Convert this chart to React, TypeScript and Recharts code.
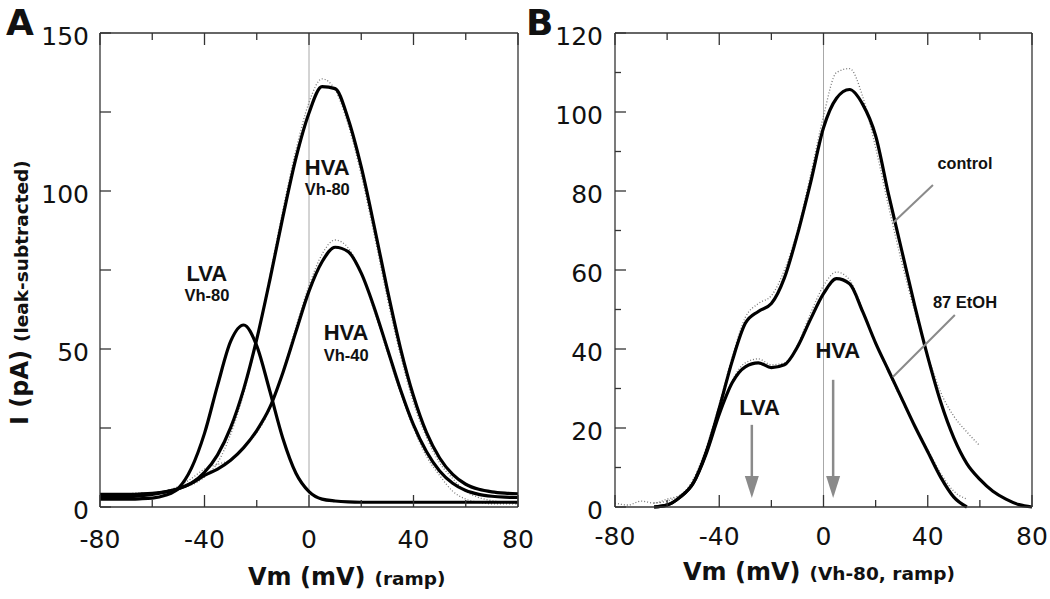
import React from 'react';
import { LineChart, Line, XAxis, YAxis, ReferenceLine, ReferenceDot } from 'recharts';

// membrane potential grid (mV)
const vm = [-80, -75, -70, -65, -60, -55, -50, -45, -40, -35, -30, -25, -20, -15, -10, -5, 0, 5, 10, 15, 20, 25, 30, 35, 40, 45, 50, 55, 60, 65, 70, 75, 80];

// panel A: fitted currents (pA)
const lvaVh80 = [2.5, 2.5, 2.5, 2.6, 2.8, 3.7, 5.9, 12.3, 23.3, 38.5, 52.4, 57.6, 51, 36.7, 21.7, 10.7, 4.9, 2.5, 1.9, 1.6, 1.5, 1.5, 1.5, 1.5, 1.5, 1.5, 1.5, 1.5, 1.5, 1.5, 1.5, 1.5, 1.5];
const hvaVh80 = [4.0, 4.0, 4.0, 4.1, 4.3, 4.8, 5.8, 7.6, 11.0, 16.5, 25.1, 37.3, 53.1, 71.8, 91.8, 110.4, 124.7, 133, 132.4, 122.8, 107.6, 88.7, 68.7, 50.3, 35.1, 23.5, 15.5, 10.3, 7.2, 5.6, 4.8, 4.4, 4.2];
const hvaVh40 = [3.0, 3.0, 3.2, 3.5, 4.0, 4.8, 5.8, 7.5, 10, 12, 14.8, 18.8, 24.2, 31.5, 42.5, 55.5, 68.3, 77.6, 82.2, 80.8, 74.0, 63.0, 50.1, 37.2, 26.0, 17.5, 11.4, 7.5, 5.2, 4.0, 3.4, 3.1, 3.0];
// panel A: raw ramp traces
const rawVh80 = [3.5, 3, 4, 4.5, 4, 5, 6, 7, 9.5, 14, 23, 36, 53, 73, 94, 113, 128, 135.5, 132, 121, 105, 86, 66, 48, 33, 22, 14, 9, 5, 3, 2, 1.5, 1];
const rawVh40 = [2.5, 3, 3, 3.5, 4, 5, 6.5, 9, 12, 13.5, 15, 19, 23.5, 31, 43, 57, 70, 80, 84.5, 82, 74, 62, 49, 36, 25, 16, 10, 5, 2.5, 1.5, 1, 1, 1];

// panel B: fitted currents (pA)
const control = [null, null, null, 0, 0.5, 2.5, 6, 14, 25, 37, 46.5, 49.5, 51.5, 58, 69, 82, 96, 103.5, 105.7, 102, 94, 79, 65, 51, 38, 26.5, 17.5, 11, 7, 4, 2, 0.6, 0];
const etoh87 = [null, null, null, 0, 0.5, 2.5, 6, 13.5, 23.5, 31.5, 35.5, 36.5, 35.3, 36, 40.5, 47.5, 54, 57.8, 56.5, 49.5, 41.5, 34.5, 27.5, 20.5, 14, 7.5, 2.5, 0, null, null, null, null, null];
// panel B: raw ramp traces
const rawControl = [1, 0.5, 1.5, 1, 2, 3, 7, 15, 26, 38, 48, 51.5, 53.5, 60, 70, 84, 99, 110, 111, 104, 91, 76, 62, 49.5, 38.5, 29, 23, 19, 15.5, null, null, null, null];
const rawEtoh = [null, null, null, 1, 1.5, 3, 6, 13, 23.5, 32, 36.5, 37.5, 36, 36.5, 41, 49, 56, 59.5, 57.5, 50, 41.5, 34, 27, 20.5, 14.5, 8.5, 4, 2, null, null, null, null, null];

const xTicks = [-80, -60, -40, -20, 0, 20, 40, 60, 80];
const yTicksA = [0, 25, 50, 75, 100, 125, 150];
const yTicksB = [0, 10, 20, 30, 40, 50, 60, 70, 80, 90, 100, 110, 120];

const rowsA = vm.map((v, i) => ({ vm: v, lva: lvaVh80[i], hva80: hvaVh80[i], hva40: hvaVh40[i], raw80: rawVh80[i], raw40: rawVh40[i] }));
const rowsB = vm.map((v, i) => ({ vm: v, ctl: control[i], eth: etoh87[i], rawCtl: rawControl[i], rawEth: rawEtoh[i] }));

const NUM_FONT = "'DejaVu Sans', Verdana, sans-serif";
const LBL_FONT = "'Liberation Sans', Arial, sans-serif";
const AXIS = '#333';

const mkTick = (side: string, opts: { labelEvery?: number; majorEvery: number; major: number; minor: number; dx?: number; dy?: number }) =>
  (props: any) => {
    const { x, y, payload } = props;
    const v = Number(payload.value);
    const len = v % opts.majorEvery === 0 ? opts.major : opts.minor;
    let ln: any = null;
    if (side === 'bottom') ln = <line x1={x} y1={y} x2={x} y2={y - len} />;
    if (side === 'top') ln = <line x1={x} y1={y} x2={x} y2={y + len} />;
    if (side === 'left') ln = <line x1={x} y1={y} x2={x + len} y2={y} />;
    if (side === 'right') ln = <line x1={x} y1={y} x2={x - len} y2={y} />;
    const show = opts.labelEvery != null && v % opts.labelEvery === 0;
    return (
      <g>
        <g stroke={AXIS} strokeWidth={1.3}>{ln}</g>
        {show && side === 'bottom' && (
          <text x={x} y={y + (opts.dy ?? 41)} textAnchor="middle" fontSize={25} fontFamily={NUM_FONT} fill="#111">{v}</text>
        )}
        {show && side === 'left' && (
          <text x={x - (opts.dx ?? 11)} y={y + 11.5} textAnchor="end" fontSize={25} fontFamily={NUM_FONT} fill="#111">{v}</text>
        )}
      </g>
    );
  };

const label = (text: string, size: number) => (p: any) => (
  <text x={p.cx} y={p.cy + size * 0.36} textAnchor="middle" fontSize={size} fontWeight="bold" fontFamily={LBL_FONT} fill="#111">{text}</text>
);

const Arrow = (p: any) => {
  const { x1, y1, x2, y2 } = p;
  return (
    <g fill="#8a8a8a" stroke="none">
      <line x1={x1} y1={y1} x2={x2} y2={y2 - 20} stroke="#8a8a8a" strokeWidth={2.5} />
      <polygon points={`${x2 - 7},${y2 - 22} ${x2 + 7},${y2 - 22} ${x2},${y2}`} />
    </g>
  );
};

const fit = { type: 'monotone' as const, stroke: '#000', strokeWidth: 3.2, dot: false, activeDot: false, isAnimationActive: false, connectNulls: false };
const raw = { type: 'monotone' as const, stroke: '#777', strokeWidth: 1.3, strokeDasharray: '1 2', dot: false, activeDot: false, isAnimationActive: false, connectNulls: false };

// box frame: labelled bottom/left axes, tick-only top/right axes (1px thick so recharts draws them)
function Frame({ yTicks, yMax, yMajor, yLabel, xDy, yDx }: any) {
  return [
    <XAxis key="xb" xAxisId={0} dataKey="vm" type="number" domain={[-80, 80]} ticks={xTicks} interval={0} height={1}
      tickSize={0} tickMargin={0} tickLine={false} axisLine={{ stroke: AXIS, strokeWidth: 1.3 }}
      tick={mkTick('bottom', { labelEvery: 40, majorEvery: 40, major: 12, minor: 7, dy: xDy })} />,
    <XAxis key="xt" xAxisId="top" orientation="top" dataKey="vm" type="number" domain={[-80, 80]} ticks={xTicks} interval={0} height={1}
      tickSize={0} tickMargin={0} tickLine={false} axisLine={{ stroke: AXIS, strokeWidth: 1.3 }}
      tick={mkTick('top', { majorEvery: 40, major: 12, minor: 7 })} />,
    <YAxis key="yl" yAxisId={0} type="number" domain={[0, yMax]} ticks={yTicks} interval={0} width={1}
      tickSize={0} tickMargin={0} tickLine={false} axisLine={{ stroke: AXIS, strokeWidth: 1.3 }}
      tick={mkTick('left', { labelEvery: yLabel, majorEvery: yMajor, major: 11, minor: 6, dx: yDx })} />,
    <YAxis key="yr" yAxisId="right" orientation="right" type="number" domain={[0, yMax]} ticks={yTicks} interval={0} width={1}
      tickSize={0} tickMargin={0} tickLine={false} axisLine={{ stroke: AXIS, strokeWidth: 1.3 }}
      tick={mkTick('right', { majorEvery: yMajor, major: 11, minor: 6 })} />,
  ];
}

export default function App() {
  return (
    <div style={{ position: 'absolute', left: 0, top: 0, width: 1050, height: 599, background: '#fff', overflow: 'hidden' }}>
      <div style={{ position: 'absolute', left: 0, top: 0 }}>
        <LineChart width={545} height={599} data={rowsA} margin={{ top: 32, right: 26, bottom: 91, left: 99 }}>
          {Frame({ yTicks: yTicksA, yMax: 150, yMajor: 25, yLabel: 50, xDy: 41, yDx: 11 })}
          <ReferenceLine x={0} stroke="#a8a8a8" strokeWidth={1} />
          <Line dataKey="raw80" {...raw} />
          <Line dataKey="raw40" {...raw} />
          <Line dataKey="lva" {...fit} />
          <Line dataKey="hva80" {...fit} />
          <Line dataKey="hva40" {...fit} />
          <ReferenceDot x={7} y={107.7} r={0} shape={label('HVA', 22)} />
          <ReferenceDot x={7} y={100.5} r={0} shape={label('Vh-80', 16.5)} />
          <ReferenceDot x={-39.1} y={74.1} r={0} shape={label('LVA', 22)} />
          <ReferenceDot x={-39.1} y={67.1} r={0} shape={label('Vh-80', 16.5)} />
          <ReferenceDot x={14.2} y={55.3} r={0} shape={label('HVA', 22)} />
          <ReferenceDot x={14.2} y={48.1} r={0} shape={label('Vh-40', 16.5)} />
        </LineChart>
      </div>
      <div style={{ position: 'absolute', left: 530, top: 0 }}>
        <LineChart width={520} height={599} data={rowsB} margin={{ top: 32, right: 17, bottom: 91, left: 84 }}>
          {Frame({ yTicks: yTicksB, yMax: 120, yMajor: 20, yLabel: 20, xDy: 38, yDx: 12 })}
          <ReferenceLine x={0} stroke="#a8a8a8" strokeWidth={1} />
          <Line dataKey="rawCtl" {...raw} />
          <Line dataKey="rawEth" {...raw} />
          <Line dataKey="ctl" {...fit} />
          <Line dataKey="eth" {...fit} />
          <ReferenceLine segment={[{ x: 42, y: 81.5 }, { x: 26.6, y: 71.9 }]} stroke="#8a8a8a" strokeWidth={2} />
          <ReferenceLine segment={[{ x: 50.4, y: 48.6 }, { x: 26.6, y: 32.9 }]} stroke="#8a8a8a" strokeWidth={2} />
          <ReferenceLine segment={[{ x: -27.5, y: 20.8 }, { x: -27.5, y: 2.3 }]} shape={Arrow} />
          <ReferenceLine segment={[{ x: 3.7, y: 32.2 }, { x: 3.7, y: 2.3 }]} shape={Arrow} />
          <ReferenceDot x={54.3} y={87.1} r={0} shape={label('control', 16.2)} />
          <ReferenceDot x={54.3} y={51.9} r={0} shape={label('87 EtOH', 16.5)} />
          <ReferenceDot x={5.5} y={39.7} r={0} shape={label('HVA', 22)} />
          <ReferenceDot x={-24.5} y={25.3} r={0} shape={label('LVA', 22)} />
        </LineChart>
      </div>
      <svg width={1050} height={599} style={{ position: 'absolute', left: 0, top: 0, pointerEvents: 'none' }}>
        <g fontFamily={NUM_FONT} fontWeight="bold" fill="#111">
          <text x={6} y={35} fontSize={36}>A</text>
          <text x={526} y={35} fontSize={36}>B</text>
          <text x={248} y={585} fontSize={24}>Vm (mV)<tspan fontSize={18.5} dx={9}>(ramp)</tspan></text>
          <text x={683} y={580} fontSize={24}>Vm (mV)<tspan fontSize={18.5} dx={9}>(Vh-80, ramp)</tspan></text>
          <text transform="translate(28,425) rotate(-90)" fontSize={24}>I (pA)<tspan fontSize={18.5} dx={8}>(leak-subtracted)</tspan></text>
        </g>
      </svg>
    </div>
  );
}
